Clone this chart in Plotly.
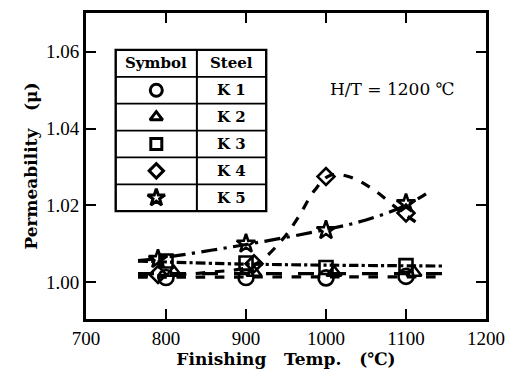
import plotly.graph_objects as go

# ---- data ----
steels = ["K 1", "K 2", "K 3", "K 4", "K 5"]
symbols = ["circle-open", "triangle-up-open", "square-open", "diamond-open", "star-open"]

k1_t = [800, 900, 1000, 1100]
k1_mu = [1.0012, 1.0012, 1.0011, 1.0015]
k2_t = [810, 910, 1010, 1110]
k2_mu = [1.0025, 1.0025, 1.0025, 1.0025]
k3_t = [800, 900, 1000, 1100]
k3_mu = [1.0055, 1.0050, 1.0038, 1.0043]
k4_t = [790, 910, 1000, 1100]
k4_mu = [1.0020, 1.0048, 1.0275, 1.0180]
k5_t = [790, 900, 1000, 1100]
k5_mu = [1.0060, 1.0100, 1.0135, 1.0205]

# fitted curves as drawn in the figure
k1_fit_t = [765, 1145]
k1_fit_mu = [1.0013, 1.0014]
k2_fit_t = [765, 1145]
k2_fit_mu = [1.0022, 1.0022]
k3_fit_t = [765, 900, 1145]
k3_fit_mu = [1.0055, 1.0047, 1.0042]
k4_fit_t = [765, 850, 910, 945, 965, 986, 1005, 1030, 1060, 1090, 1120]
k4_fit_mu = [1.0015, 1.0025, 1.0045, 1.0110, 1.0168, 1.0240, 1.0278, 1.0274, 1.0240, 1.0190, 1.0145]
k5_fit_t = [765, 790, 900, 1000, 1050, 1100, 1125]
k5_fit_mu = [1.0056, 1.0062, 1.0098, 1.0137, 1.0162, 1.0200, 1.0230]

x_ticks = [700, 800, 900, 1000, 1100, 1200]
y_ticks = [1.00, 1.02, 1.04, 1.06]

series = [
    (k1_t, k1_mu, k1_fit_t, k1_fit_mu, "dash", 15),
    (k2_t, k2_mu, k2_fit_t, k2_fit_mu, "longdash", 13),
    (k3_t, k3_mu, k3_fit_t, k3_fit_mu, "dashdot", 13),
    (k4_t, k4_mu, k4_fit_t, k4_fit_mu, "dash", 13),
    (k5_t, k5_mu, k5_fit_t, k5_fit_mu, "longdashdot", 14),
]

fig = go.Figure()
for i, (t, mu, ft, fmu, dash, msz) in enumerate(series):
    fig.add_trace(go.Scatter(x=ft, y=fmu, mode="lines", line=dict(color="black", width=3.2, dash=dash, shape="spline", smoothing=1.0), showlegend=False, hoverinfo="skip"))
for i, (t, mu, ft, fmu, dash, msz) in enumerate(series):
    fig.add_trace(go.Scatter(x=t, y=mu, mode="markers", name=steels[i],
                             marker=dict(symbol=symbols[i], size=msz, color="black", line=dict(color="black", width=2.6)),
                             showlegend=False))

# ---- legend table on an overlay axis in pixel units ----
L, D, R, TOP, BOT = 116, 198, 268, 48, 214
rows = 6
rh = (BOT - TOP) / rows
shapes = [dict(type="rect", xref="x2", yref="y2", x0=L, x1=R, y0=TOP, y1=BOT, line=dict(color="black", width=2.4), fillcolor="rgba(0,0,0,0)", layer="below")]
shapes.append(dict(type="line", xref="x2", yref="y2", x0=D, x1=D, y0=TOP, y1=BOT, line=dict(color="black", width=2), layer="below"))
for r in range(1, rows):
    shapes.append(dict(type="line", xref="x2", yref="y2", x0=L, x1=R, y0=TOP + r * rh, y1=TOP + r * rh, line=dict(color="black", width=1.8), layer="below"))

annotations = []
tfont = dict(family="DejaVu Serif", size=15, color="black")
annotations.append(dict(xref="x2", yref="y2", x=(L + D) / 2, y=TOP + rh / 2, text="<b>Symbol</b>", showarrow=False, font=tfont))
annotations.append(dict(xref="x2", yref="y2", x=(D + R) / 2, y=TOP + rh / 2, text="<b>Steel</b>", showarrow=False, font=tfont))
leg_sizes = [12, 11, 11, 11, 13]
for i, s in enumerate(steels):
    yc = TOP + (i + 1.5) * rh
    annotations.append(dict(xref="x2", yref="y2", x=(D + R) / 2, y=yc, text="<b>" + s + "</b>", showarrow=False, font=tfont))
    fig.add_trace(go.Scatter(x=[(L + D) / 2], y=[yc], xaxis="x2", yaxis="y2", mode="markers", showlegend=False,
                             hoverinfo="skip", opacity=1,
                             marker=dict(symbol=symbols[i], size=leg_sizes[i], color="black", opacity=1,
                                         line=dict(color="black", width=3))))

annotations.append(dict(xref="x2", yref="y2", x=396, y=88, text="H/T = 1200 ℃", showarrow=False,
                        font=dict(family="DejaVu Serif", size=17, color="black")))

axis_common = dict(showline=True, linecolor="black", linewidth=3, mirror="allticks", ticks="inside",
                   ticklen=10, tickwidth=2, tickcolor="black", showgrid=False, zeroline=False,
                   tickfont=dict(family="Liberation Serif", size=19, color="black"))

fig.update_layout(
    width=515, height=371,
    margin=dict(l=86, r=25, t=10, b=46),
    paper_bgcolor="white", plot_bgcolor="white",
    shapes=shapes, annotations=annotations,
    xaxis=dict(range=[700, 1200], tickvals=x_ticks, ticktext=[str(v) for v in x_ticks],
               title=dict(text="<b>Finishing   Temp.   (℃)</b>", font=dict(family="DejaVu Serif", size=17, color="black"), standoff=0),
               **axis_common),
    yaxis=dict(range=[0.9904, 1.0701], tickvals=y_ticks, ticktext=["%.2f" % v for v in y_ticks],
               title=dict(text="<b>Permeability   (μ)</b>", font=dict(family="DejaVu Serif", size=17, color="black"), standoff=5),
               **axis_common),
    xaxis2=dict(range=[86, 490], overlaying="x", visible=False, fixedrange=True),
    yaxis2=dict(range=[325, 10], overlaying="y", visible=False, fixedrange=True),
)

fig.write_html("out.html")
